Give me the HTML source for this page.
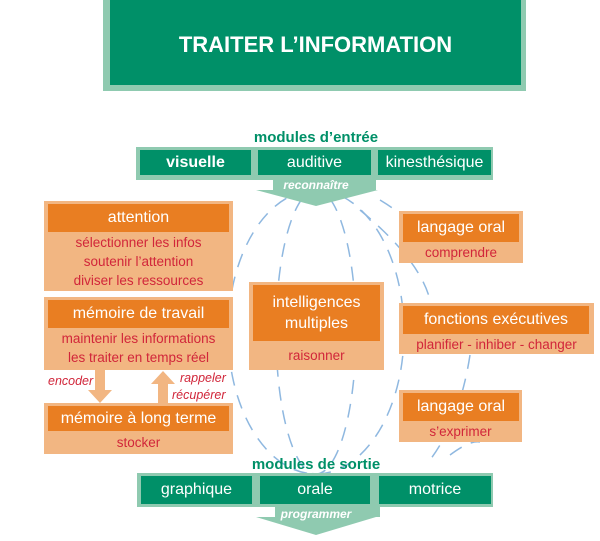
<!DOCTYPE html>
<html><head><meta charset="utf-8"><style>
body{margin:0;width:600px;height:541px;background:#fff;position:relative;overflow:hidden;font-family:"Liberation Sans",sans-serif}
.a{position:absolute;box-sizing:border-box}
.g{background:#009068;color:#fff;text-align:center;font-size:16px}
.lg{background:#8fcab0}
.lo{background:#f2b682}
.o{background:#e97e22;color:#fff;text-align:center;font-size:16px}
.r{position:absolute;left:0;right:0;text-align:center;color:#d1263a;font-size:13.5px}
.lab{position:absolute;color:#009068;font-weight:bold;font-size:15px;text-align:center}
.it{position:absolute;color:#d1263a;font-style:italic;font-size:12.5px}
</style></head><body>
<svg class="a" style="left:0;top:0" width="600" height="541">
<g fill="none" stroke="#8fb8e0" stroke-width="1.5" stroke-dasharray="14 10">
<ellipse cx="316" cy="332" rx="88" ry="142"/>
<ellipse cx="316" cy="332" rx="40" ry="142"/>
<path d="M380 200 Q430 230 440 270"/>
<path d="M360 210 Q420 260 430 300"/>
<path d="M470 355 Q460 420 430 460"/>
<path d="M450 455 Q470 440 480 442"/>
</g>
<polygon points="273,180 376,180 376,190 378,190 316,206 256,190 273,190" fill="#8fcab0"/>
<polygon points="275,507 380,507 380,517 376,517 316,535 256,517 275,517" fill="#8fcab0"/>
<polygon points="95,370 105,370 105,390 112,390 100,403 88,390 95,390" fill="#f2b682"/>
<polygon points="158,403 168,403 168,384 175,384 163,371 151,384 158,384" fill="#f2b682"/>
</svg>
<div class="a lg" style="left:103px;top:0;width:423px;height:91px"></div>
<div class="a g" style="left:110px;top:0;width:411px;height:85px;font-weight:bold;font-size:22px;line-height:90px">TRAITER L’INFORMATION</div>

<div class="lab" style="left:216px;top:129px;width:200px">modules d’entrée</div>
<div class="a lg" style="left:136px;top:147px;width:357px;height:33px"></div>
<div class="a g" style="left:140px;top:150px;width:111px;height:25px;line-height:25px;font-weight:bold">visuelle</div>
<div class="a g" style="left:258px;top:150px;width:113px;height:25px;line-height:25px">auditive</div>
<div class="a g" style="left:378px;top:150px;width:113px;height:25px;line-height:25px">kinesthésique</div>
<div class="a" style="left:266px;top:178px;width:100px;text-align:center;color:#fff;font-style:italic;font-weight:bold;font-size:12px">reconnaître</div>

<div class="a lo" style="left:44px;top:201px;width:189px;height:90px">
<div class="a o" style="left:4px;top:3px;width:181px;height:28px;line-height:28px">attention</div>
<div class="r" style="top:34px">sélectionner les infos</div>
<div class="r" style="top:53px">soutenir l’attention</div>
<div class="r" style="top:72px">diviser les ressources</div></div>

<div class="a lo" style="left:44px;top:297px;width:189px;height:73px">
<div class="a o" style="left:4px;top:3px;width:181px;height:28px;line-height:28px">mémoire de travail</div>
<div class="r" style="top:34px">maintenir les informations</div>
<div class="r" style="top:53px">les traiter en temps réel</div></div>

<div class="it" style="left:48px;top:374px">encoder</div>
<div class="it" style="left:180px;top:371px">rappeler</div>
<div class="it" style="left:172px;top:388px">récupérer</div>

<div class="a lo" style="left:44px;top:403px;width:189px;height:51px">
<div class="a o" style="left:4px;top:3px;width:181px;height:25px;line-height:25px">mémoire à long terme</div>
<div class="r" style="top:32px">stocker</div></div>

<div class="a lo" style="left:249px;top:282px;width:135px;height:88px">
<div class="a o" style="left:4px;top:3px;width:127px;height:56px;line-height:21px;padding-top:7px">intelligences<br>multiples</div>
<div class="r" style="top:66px">raisonner</div></div>

<div class="a lo" style="left:399px;top:211px;width:124px;height:52px">
<div class="a o" style="left:4px;top:3px;width:116px;height:28px;line-height:28px">langage oral</div>
<div class="r" style="top:34px">comprendre</div></div>

<div class="a lo" style="left:399px;top:303px;width:195px;height:51px">
<div class="a o" style="left:4px;top:3px;width:186px;height:28px;line-height:28px">fonctions exécutives</div>
<div class="r" style="top:34px">planifier - inhiber - changer</div></div>

<div class="a lo" style="left:399px;top:390px;width:123px;height:52px">
<div class="a o" style="left:4px;top:3px;width:116px;height:28px;line-height:28px">langage oral</div>
<div class="r" style="top:34px">s’exprimer</div></div>

<div class="lab" style="left:216px;top:456px;width:200px">modules de sortie</div>
<div class="a lg" style="left:137px;top:473px;width:356px;height:34px"></div>
<div class="a g" style="left:141px;top:476px;width:111px;height:28px;line-height:28px">graphique</div>
<div class="a g" style="left:260px;top:476px;width:110px;height:28px;line-height:28px">orale</div>
<div class="a g" style="left:379px;top:476px;width:112px;height:28px;line-height:28px">motrice</div>
<div class="a" style="left:266px;top:507px;width:100px;text-align:center;color:#fff;font-style:italic;font-weight:bold;font-size:12px">programmer</div>
</body></html>
